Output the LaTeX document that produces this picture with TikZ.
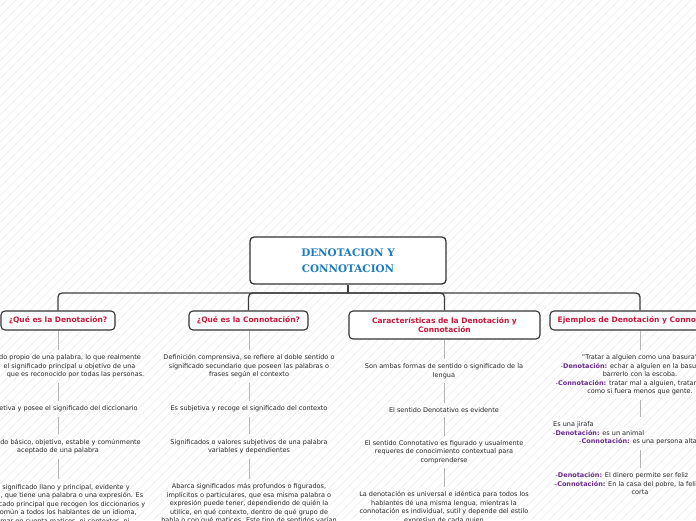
\documentclass[tikz,border=0pt]{standalone}
\usepackage{fontspec}
\setmainfont{DejaVu Sans}
\newfontfamily\titlefont{DejaVu Serif}
\definecolor{hatchc}{HTML}{EBEBEB}
\definecolor{boxc}{HTML}{333333}
\definecolor{treec}{HTML}{3C3C3C}
\definecolor{linkc}{HTML}{B4B4B4}
\definecolor{titlec}{HTML}{1F7BC1}
\definecolor{labelc}{HTML}{C7193C}
\definecolor{purpc}{HTML}{6A2A8E}
\definecolor{textc}{HTML}{262626}
\newcommand\purpw[1]{\textcolor{purpc}{\textbf{#1}}}
\newcommand\padr[1]{\hspace*{#1}\mbox{}}
\tikzset{
  hatch/.style={draw=hatchc, line width=0.5pt},
  rootbox/.style={draw=boxc, line width=1.3pt, rounded corners=4pt, fill=white,
    minimum width=196pt, minimum height=47pt, inner sep=0pt, align=center,
    font=\titlefont\bfseries\fontsize{10.4}{15.5}\selectfont, text=titlec},
  topic/.style={draw=boxc, line width=1.1pt, rounded corners=4pt, fill=white,
    inner sep=0pt, minimum height=19pt, align=center,
    font=\bfseries\fontsize{7.5}{9}\selectfont, text=labelc},
  txt/.style={inner xsep=0pt, inner ysep=4.5pt, align=center,
    font=\fontsize{6.5}{8.5}\selectfont, text=textc},
  tree/.style={draw=treec, line width=1.3pt, rounded corners=4pt},
  link/.style={draw=linkc, line width=1pt},
}
\begin{document}
\begin{tikzpicture}[x=1pt,y=-1pt]
\useasboundingbox (0,0) rectangle (696,520);
\clip (0,0) rectangle (696,520);
\fill[white] (0,0) rectangle (696,520);
\foreach \i in {-522,-513,...,700} \draw[hatch] (\i,520) -- ++(520,-520);

% root and topics
\node[rootbox] (root) at (348,260.5) {DENOTACION Y\\CONNOTACION};
\node[topic, minimum width=114pt] (a0) at (58,320.5) {¿Qué es la Denotación?};
\node[topic, minimum width=119pt] (b0) at (248.5,320.5) {¿Qué es la Connotación?};
\node[topic, minimum width=191pt, minimum height=28pt] (c0) at (444.5,325) {Características de la Denotación y\\Connotación};
\node[topic, minimum width=180pt] (d0) at (640,320.5) {Ejemplos de Denotación y Connotación};

\coordinate (hub) at (348,293);
\draw[treec, line width=1.3pt] (root.south) -- (hub);
\draw[tree] (hub) -| (a0.north);
\draw[tree] (hub) -| (b0.north);
\draw[tree] (hub) -| (c0.north);
\draw[tree] (hub) -| (d0.north);

% column 1
\node[txt] (a1) at (58,366.5) {\hspace*{24pt}do propio de una palabra, lo que realmente\\
\hspace*{23pt}el significado principal u objetivo de una\\
\hspace*{35pt}que es reconocido por todas las personas.};
\node[txt] (a2) at (58,409) {\hspace*{21pt}etiva y posee el significado del diccionario};
\node[txt] (a3) at (58,446.5) {\hspace*{25pt}do básico, objetivo, estable y comúnmente\\aceptado de una palabra};
\node[txt] (a4) at (58,504) {\hspace*{16pt}significado llano y principal, evidente y\\
\hspace*{28pt}, que tiene una palabra o una expresión. Es\\
\hspace*{28pt}cado principal que recogen los diccionarios y\\
\hspace*{17pt}común a todos los hablantes de un idioma,\\
\hspace*{14pt}mar en cuenta matices, ni contextos, ni};
\draw[link] (a0.south) -- (a1.north);
\draw[link] (a1.south) -- (a2.north);
\draw[link] (a2.south) -- (a3.north);
\draw[link] (a3.south) -- (a4.north);

% column 2
\node[txt] (b1) at (249,366.5) {Definición comprensiva, se refiere al doble sentido o\\significado secundario que poseen las palabras o\\frases según el contexto};
\node[txt] (b2) at (249,409) {Es subjetiva y recoge el significado del contexto};
\node[txt] (b3) at (249,446.5) {Significados o valores subjetivos de una palabra\\variables y dependientes};
\node[txt] (b4) at (249,504) {Abarca significados más profundos o figurados,\\implícitos o particulares, que esa misma palabra o\\expresión puede tener, dependiendo de quién la\\utilice, en qué contexto, dentro de qué grupo de\\habla o con qué matices. Este tipo de sentidos varían};
\draw[link] (b0.south -| b1.north) -- (b1.north);
\draw[link] (b1.south) -- (b2.north);
\draw[link] (b2.south) -- (b3.north);
\draw[link] (b3.south) -- (b4.north);

% column 3
\node[txt] (c1) at (444,371) {Son ambas formas de sentido o significado de la\\lengua};
\node[txt] (c2) at (444,410) {El sentido Denotativo es evidente};
\node[txt] (c3) at (444,452) {El sentido Connotativo es figurado y usualmente\\requeres de conocimiento contextual para\\comprenderse};
\node[txt] (c4) at (444,507.5) {La denotación es universal e idéntica para todos los\\hablantes dé una misma lengua, mientras la\\connotación es individual, sutil y depende del estilo\\expresivo de cada quien};
\draw[link] (c0.south -| c1.north) -- (c1.north);
\draw[link] (c1.south) -- (c2.north);
\draw[link] (c2.south) -- (c3.north);
\draw[link] (c3.south) -- (c4.north);

% column 4
\node[txt] (d1) at (640,375) {"Tratar a alguien como una basura"\\
-\purpw{Denotación:} echar a alguien en la basu\padr{23pt}\\
barrerlo con la escoba.\\
-\purpw{Connotación:} tratar mal a alguien, tratar\padr{28pt}\\
como si fuera menos que gente.};
\node[txt, align=left, anchor=west] (d2) at (553,433.5) {Es una jirafa\\
-\purpw{Denotación:} es un animal\\
\hspace*{26pt}-\purpw{Connotación:} es una persona alta};
\node[txt] (d3) at (640,483.5) {-\purpw{Denotación:} El dinero permite ser feliz\padr{36pt}\\
–\purpw{Connotación:} En la casa del pobre, la feli\padr{30pt}\\
corta};
\draw[link] (d0.south) -- (d1.north);
\draw[link] (d1.south) -- (d1.south |- d2.north);
\draw[link] (d3.north |- d2.south) -- (d3.north);
\end{tikzpicture}
\end{document}
